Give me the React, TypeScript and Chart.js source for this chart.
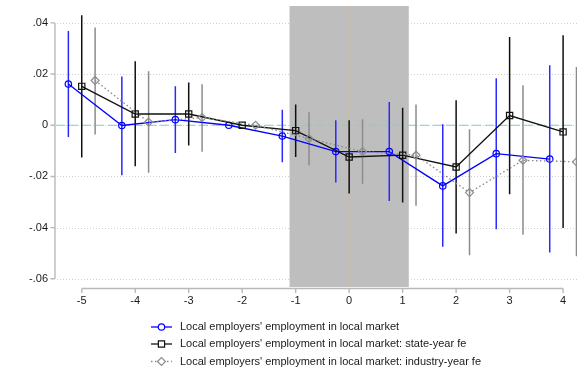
import React, { useEffect, useRef } from 'react';
import { Chart, registerables } from 'chart.js';

Chart.register(...registerables);

// ---- Data ----
const relTime = [-5, -4, -3, -2, -1, 0, 1, 2, 3, 4];
const xTickValues = [-5, -4, -3, -2, -1, 0, 1, 2, 3, 4];
const yTickValues = [0.04, 0.02, 0, -0.02, -0.04, -0.06];
const yTickLabels = ['.04', '.02', '0', '-.02', '-.04', '-.06'];

const seriesLabels = [
  "Local employers' employment in local market",
  "Local employers' employment in local market: state-year fe",
  "Local employers' employment in local market: industry-year fe",
];
const seriesOffsets = [-0.25, 0, 0.25];

const blueCoef = [0.0161, -0.0001, 0.0022, 0, -0.0042, -0.0103, -0.0103, -0.0237, -0.0111, -0.0132];
const blueLo = [-0.0046, -0.0195, -0.0108, null, -0.0145, -0.0224, -0.0296, -0.0475, -0.0406, -0.0497];
const blueHi = [0.0368, 0.0191, 0.0152, null, 0.0061, 0.002, 0.0091, 0.0004, 0.0184, 0.0234];

const blackCoef = [0.0152, 0.0044, 0.0044, 0, -0.0021, -0.0124, -0.0117, -0.0163, 0.0038, -0.0026];
const blackLo = [-0.0126, -0.016, -0.0079, null, -0.0124, -0.0267, -0.0302, -0.0423, -0.027, -0.0401];
const blackHi = [0.043, 0.025, 0.0167, null, 0.0081, 0.002, 0.0068, 0.0098, 0.0345, 0.0352];

const greyCoef = [0.0175, 0.0012, 0.003, 0, -0.0052, -0.0103, -0.0117, -0.0263, -0.0137, -0.0143];
const greyLo = [-0.0036, -0.0186, -0.0104, null, -0.0157, -0.0229, -0.0315, -0.0508, -0.0428, -0.0512];
const greyHi = [0.0382, 0.0211, 0.016, null, 0.0051, 0.0023, 0.0081, -0.0016, 0.0156, 0.0228];

const shadeStart = -1.115;
const shadeEnd = 1.115;
const xMin = -5.5;
const xMax = 4.26;
const yMin = -0.0632;
const yMax = 0.0466;

// ---- Styles ----
const FONT = '"Liberation Sans", Arial, Helvetica, sans-serif';
const seriesStyles = [
  { line: '#0000ff', ci: '#2a2aff', point: 'circle', radius: 3.2, dash: [] as number[], width: 1.3 },
  { line: '#111111', ci: '#111111', point: 'rect', radius: 4.4, dash: [] as number[], width: 1.3 },
  { line: '#8c8c8c', ci: '#8c8c8c', point: 'rectRot', radius: 4, dash: [1.5, 2.5], width: 1.4 },
];

function ciData(offset: number, lo: (number | null)[], hi: (number | null)[]) {
  const out: { x: number; y: number | null }[] = [];
  relTime.forEach((t, i) => {
    if (lo[i] === null || hi[i] === null) return;
    out.push({ x: t + offset, y: lo[i] });
    out.push({ x: t + offset, y: hi[i] });
    out.push({ x: t + offset, y: null });
  });
  return out;
}

function coefData(offset: number, coef: number[]) {
  return relTime.map((t, i) => ({ x: t + offset, y: coef[i] }));
}

function drawMarker(ctx: CanvasRenderingContext2D, style: string, r: number, cx: number, cy: number, color: string) {
  ctx.strokeStyle = color;
  ctx.fillStyle = '#ffffff';
  ctx.beginPath();
  if (style === 'circle') {
    ctx.arc(cx, cy, r, 0, Math.PI * 2);
  } else if (style === 'rect') {
    const s = Math.SQRT1_2 * r;
    ctx.rect(cx - s, cy - s, 2 * s, 2 * s);
  } else {
    ctx.moveTo(cx - r, cy);
    ctx.lineTo(cx, cy - r);
    ctx.lineTo(cx + r, cy);
    ctx.lineTo(cx, cy + r);
    ctx.closePath();
  }
  ctx.fill();
  ctx.stroke();
}

const decorPlugin = {
  id: 'decor',
  beforeDatasetsDraw(chart: any) {
    const { ctx, chartArea: a, scales } = chart;
    const x = scales.x;
    const y = scales.y;
    ctx.save();
    // dotted gridlines
    ctx.strokeStyle = '#cfcfcf';
    ctx.lineWidth = 1;
    ctx.setLineDash([1, 2]);
    yTickValues.forEach((v) => {
      const py = Math.round(y.getPixelForValue(v)) + 0.5;
      ctx.beginPath();
      ctx.moveTo(a.left + 2, py);
      ctx.lineTo(a.right, py);
      ctx.stroke();
    });
    // shaded window
    ctx.setLineDash([]);
    ctx.fillStyle = '#bebebe';
    const x0 = x.getPixelForValue(shadeStart);
    const x1 = x.getPixelForValue(shadeEnd);
    ctx.fillRect(x0, a.top, x1 - x0, a.bottom - a.top);
    // zero line
    const py0 = y.getPixelForValue(0);
    ctx.strokeStyle = '#80d2c8';
    ctx.lineWidth = 1.2;
    ctx.setLineDash([9, 4]);
    ctx.beginPath();
    ctx.moveTo(a.left + 1, py0);
    ctx.lineTo(a.right, py0);
    ctx.stroke();
    // event line
    const px0 = x.getPixelForValue(0);
    ctx.strokeStyle = '#f2b443';
    ctx.lineWidth = 1;
    ctx.setLineDash([4, 4]);
    ctx.beginPath();
    ctx.moveTo(px0, a.top);
    ctx.lineTo(px0, a.bottom);
    ctx.stroke();
    ctx.restore();
  },
  afterDraw(chart: any) {
    const { ctx, chartArea: a, scales } = chart;
    const x = scales.x;
    const y = scales.y;
    ctx.save();
    ctx.setLineDash([]);
    ctx.strokeStyle = '#b9b9b9';
    ctx.lineWidth = 1.4;
    // y axis
    const yTop = y.getPixelForValue(Math.max(...yTickValues));
    const yBot = y.getPixelForValue(Math.min(...yTickValues));
    ctx.beginPath();
    ctx.moveTo(a.left, yTop);
    ctx.lineTo(a.left, yBot);
    yTickValues.forEach((v) => {
      const py = y.getPixelForValue(v);
      ctx.moveTo(a.left - 4.5, py);
      ctx.lineTo(a.left, py);
    });
    ctx.stroke();
    // x axis
    const axY = a.bottom + 1.5;
    const xl = x.getPixelForValue(Math.min(...xTickValues));
    const xr = x.getPixelForValue(Math.max(...xTickValues));
    ctx.beginPath();
    ctx.moveTo(xl, axY);
    ctx.lineTo(xr, axY);
    xTickValues.forEach((v) => {
      const px = x.getPixelForValue(v);
      ctx.moveTo(px, axY);
      ctx.lineTo(px, axY + 4.5);
    });
    ctx.stroke();

    // legend
    ctx.font = '11px ' + FONT;
    const textW = Math.max(...seriesLabels.map((s) => ctx.measureText(s).width));
    const sampleW = 21;
    const gap = 8;
    const total = sampleW + gap + textW;
    const startX = (a.left + a.right) / 2 - total / 2;
    const rowY = [a.bottom + 40, a.bottom + 57, a.bottom + 74.5];
    seriesLabels.forEach((label, i) => {
      const st = seriesStyles[i];
      const cy = rowY[i];
      ctx.strokeStyle = st.line;
      ctx.lineWidth = st.width;
      ctx.setLineDash(st.dash);
      ctx.beginPath();
      ctx.moveTo(startX, cy);
      ctx.lineTo(startX + sampleW, cy);
      ctx.stroke();
      ctx.setLineDash([]);
      ctx.lineWidth = 1.2;
      drawMarker(ctx, st.point, st.radius, startX + sampleW / 2, cy, st.line);
      ctx.fillStyle = '#1a1a1a';
      ctx.textAlign = 'left';
      ctx.textBaseline = 'middle';
      ctx.fillText(label, startX + sampleW + gap, cy);
    });
    ctx.restore();
  },
};

export default function App() {
  const ref = useRef<HTMLCanvasElement | null>(null);

  useEffect(() => {
    if (!ref.current) return;
    const coefs = [blueCoef, blackCoef, greyCoef];
    const los = [blueLo, blackLo, greyLo];
    const his = [blueHi, blackHi, greyHi];

    const datasets: any[] = [];
    seriesStyles.forEach((st, i) => {
      datasets.push({
        label: seriesLabels[i] + ' CI',
        data: ciData(seriesOffsets[i], los[i], his[i]),
        borderColor: st.ci,
        borderWidth: 1.5,
        pointRadius: 0,
        spanGaps: false,
        fill: false,
        tension: 0,
        order: 10 + i,
      });
    });
    seriesStyles.forEach((st, i) => {
      datasets.push({
        label: seriesLabels[i],
        data: coefData(seriesOffsets[i], coefs[i]),
        borderColor: st.line,
        borderWidth: st.width,
        borderDash: st.dash,
        pointStyle: st.point,
        pointRadius: st.radius,
        pointBorderColor: st.line,
        pointBorderWidth: 1.2,
        pointBackgroundColor: 'rgba(0,0,0,0)',
        fill: false,
        tension: 0,
        order: 2 - i,
      });
    });

    const chart = new Chart(ref.current, {
      type: 'line',
      data: { datasets },
      plugins: [decorPlugin as any],
      options: {
        animation: false,
        responsive: false,
        maintainAspectRatio: false,
        layout: { autoPadding: false, padding: { top: 6, left: 0, right: 0, bottom: 60 } },
        plugins: { legend: { display: false }, tooltip: { enabled: false } },
        scales: {
          x: {
            type: 'linear',
            min: xMin,
            max: xMax,
            grid: { display: false, drawTicks: false },
            border: { display: false },
            afterBuildTicks: (scale: any) => {
              scale.ticks = xTickValues.map((v) => ({ value: v }));
            },
            afterFit: (scale: any) => {
              scale.height = 25;
              scale.paddingLeft = 0;
              scale.paddingRight = 0;
              scale.paddingTop = 0;
              scale.paddingBottom = 0;
            },
            ticks: {
              padding: 7,
              maxRotation: 0,
              autoSkip: false,
              color: '#1a1a1a',
              font: { family: FONT, size: 11 },
              callback: (v: any) => String(v),
            },
          },
          y: {
            type: 'linear',
            min: yMin,
            max: yMax,
            grid: { display: false, drawTicks: false },
            border: { display: false },
            afterBuildTicks: (scale: any) => {
              scale.ticks = yTickValues.map((v) => ({ value: v }));
            },
            afterFit: (scale: any) => {
              scale.width = 55;
              scale.paddingLeft = 0;
              scale.paddingRight = 0;
              scale.paddingTop = 0;
              scale.paddingBottom = 0;
            },
            ticks: {
              padding: 7,
              autoSkip: false,
              color: '#1a1a1a',
              font: { family: FONT, size: 11 },
              callback: (v: any) => {
                const idx = yTickValues.findIndex((t) => Math.abs(t - v) < 1e-9);
                return idx >= 0 ? yTickLabels[idx] : '';
              },
            },
          },
        },
      },
    });
    return () => chart.destroy();
  }, []);

  return (
    <div style={{ position: 'fixed', left: 0, top: 0, width: 577, height: 372, background: '#ffffff' }}>
      <canvas ref={ref} width={577} height={372} style={{ display: 'block', width: 577, height: 372 }} />
    </div>
  );
}
